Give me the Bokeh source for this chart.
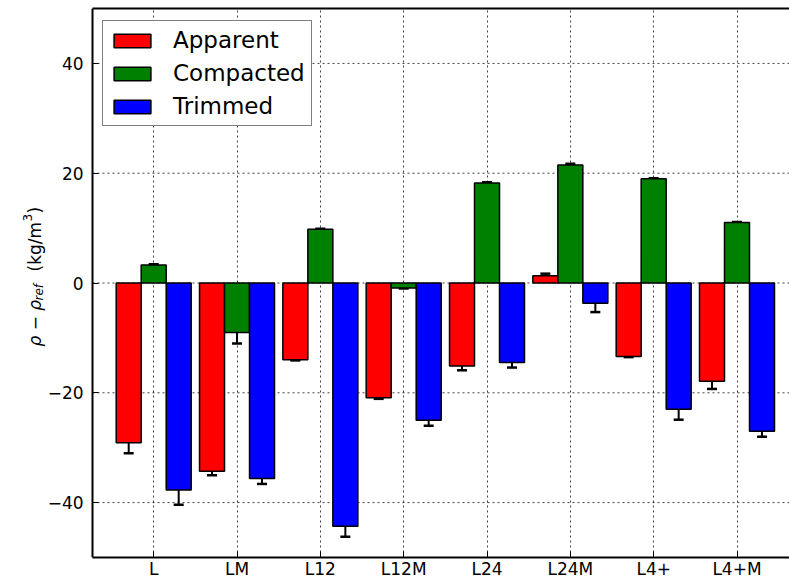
import math
from bokeh.plotting import figure
from bokeh.models import (ColumnDataSource, Whisker, TeeHead, Legend, LegendItem, Grid,
                          FixedTicker, CustomJSTickFormatter, LinearAxis, Range1d)
from bokeh.embed import file_html
from bokeh.resources import INLINE
from bokeh.core.properties import value

categories = ["L", "LM", "L12", "L12M", "L24", "L24M", "L4+", "L4+M"]
apparent = [-29.1, -34.3, -14.0, -20.9, -15.1, 1.3, -13.4, -17.9]
apparent_err = [1.9, 0.7, 0.1, 0.2, 0.8, 0.4, 0.1, 1.4]
compacted = [3.3, -9.0, 9.8, -0.9, 18.2, 21.5, 19.0, 11.0]
compacted_err = [0.1, 2.0, 0.1, 0.1, 0.15, 0.2, 0.1, 0.1]
trimmed = [-37.7, -35.6, -44.3, -25.0, -14.5, -3.7, -23.0, -27.0]
trimmed_err = [2.7, 1.0, 1.9, 1.0, 0.9, 1.6, 1.9, 1.0]
y_ticks = [-40, -20, 0, 20, 40]

series = [("Apparent", apparent, apparent_err, "#ff0000"),
          ("Compacted", compacted, compacted_err, "#008000"),
          ("Trimmed", trimmed, trimmed_err, "#0000ff")]

BAR_W = 0.3
FONT = "DejaVu Sans"

# frame spans the full width; the y axis is drawn at AXIS_X inside it
XF0, XF1 = -1.3884, 8.08
AXIS_X = -0.284
Y0, Y1 = -50, 50
W, H = 789, 582
TOP, BOTTOM = 8, 557

p = figure(width=W, height=H, output_backend="svg", toolbar_location=None,
           x_range=Range1d(XF0, XF1), y_range=Range1d(Y0, Y1),
           min_border_left=0, min_border_right=0, min_border_top=TOP, min_border_bottom=H - BOTTOM,
           x_axis_type=None, y_axis_type=None)
p.outline_line_color = None
p.background_fill_color = "white"
p.border_fill_color = "white"

n = len(categories)
tick_pos = [i + 1.5 * BAR_W for i in range(n)]

xaxis = LinearAxis(ticker=FixedTicker(ticks=tick_pos), bounds=(AXIS_X, XF1),
                   formatter=CustomJSTickFormatter(args=dict(names=categories, off=1.5 * BAR_W),
                                                   code="const k = Math.round(tick - off); return names[k] || '';"))
yaxis = LinearAxis(ticker=FixedTicker(ticks=y_ticks), fixed_location=AXIS_X,
                   formatter=CustomJSTickFormatter(code="return tick < 0 ? '\\u2212' + Math.abs(tick) : '' + tick;"))
for ax in (xaxis, yaxis):
    ax.axis_line_width = 2
    ax.axis_line_color = "black"
    ax.major_tick_in = 6
    ax.major_tick_out = 0
    ax.major_tick_line_color = "black"
    ax.minor_tick_line_color = None
    ax.major_label_text_font = FONT
    ax.major_label_text_font_size = "17px"
    ax.major_label_text_color = "black"
xaxis.major_label_standoff = 1
yaxis.major_label_standoff = 9
p.add_layout(xaxis, "below")
p.add_layout(yaxis, "left")

top = LinearAxis(ticker=FixedTicker(ticks=[]), major_label_text_font_size="0px", bounds=(AXIS_X, XF1),
                 major_tick_in=0, major_tick_out=0, minor_tick_line_color=None,
                 major_label_standoff=0, axis_line_width=2, axis_line_color="black")
p.add_layout(top, "above")

# vertical grid from the x ticker; horizontal grid lines only right of the y axis
p.add_layout(Grid(dimension=0, ticker=xaxis.ticker, grid_line_color="black", grid_line_alpha=0.75,
                  grid_line_dash="2 3", grid_line_width=1))
p.segment(x0=[AXIS_X] * len(y_ticks), x1=[XF1] * len(y_ticks), y0=y_ticks, y1=y_ticks,
          line_color="black", line_alpha=0.75, line_dash="2 3", line_width=1, level="underlay")

items = []
for k, (name, vals, errs, color) in enumerate(series):
    xs = [i + k * BAR_W + BAR_W / 2 for i in range(n)]
    src = ColumnDataSource(dict(x=xs, top=vals,
                                upper=[v + e for v, e in zip(vals, errs)],
                                lower=[v - e for v, e in zip(vals, errs)]))
    r = p.vbar(x="x", top="top", bottom=0, width=BAR_W, source=src,
               fill_color=color, line_color="black", line_width=1.5)
    items.append(LegendItem(label=name, renderers=[r]))
    p.add_layout(Whisker(source=src, base="x", upper="upper", lower="lower", dimension="height",
                         line_color="black", line_width=2,
                         upper_head=TeeHead(size=10, line_width=2.5, line_color="black"),
                         lower_head=TeeHead(size=10, line_width=2.5, line_color="black")))

# legend box: left edge at page x 102, bottom edge at page y 126
legend = Legend(items=items, location=(102, BOTTOM - 126), margin=0, padding=6, spacing=7,
                glyph_width=46, glyph_height=17, label_standoff=18,
                label_text_font=FONT, label_text_font_size="23px", label_text_color="black",
                border_line_color="black", border_line_width=1.5,
                background_fill_color="white", background_fill_alpha=1.0)
p.add_layout(legend)

# y-axis label, assembled from pieces (page pixel positions -> data units)
def px_x(px):
    return XF0 + px / W * (XF1 - XF0)
def px_y(py):
    return Y1 - (py - TOP) / (BOTTOM - TOP) * (Y1 - Y0)

base_x = 34
pieces = [
    ("\u03c1 \u2212 \u03c1", base_x, 346, "17px", "italic"),
    ("ref", base_x + 4, 300, "12px", "italic"),
    ("(kg/m", base_x, 271, "17px", "normal"),
    ("3", base_x - 7, 221, "12px", "normal"),
    (")", base_x, 213, "17px", "normal"),
]
for txt, x, y, fs, st in pieces:
    p.text(x=[px_x(x)], y=[px_y(y)], text=[txt], angle=math.pi / 2,
           text_align="left", text_baseline="alphabetic",
           text_font=value(FONT), text_font_size=value(fs), text_font_style=st,
           text_color="black")

open("out.html", "w").write(file_html(p, INLINE))
